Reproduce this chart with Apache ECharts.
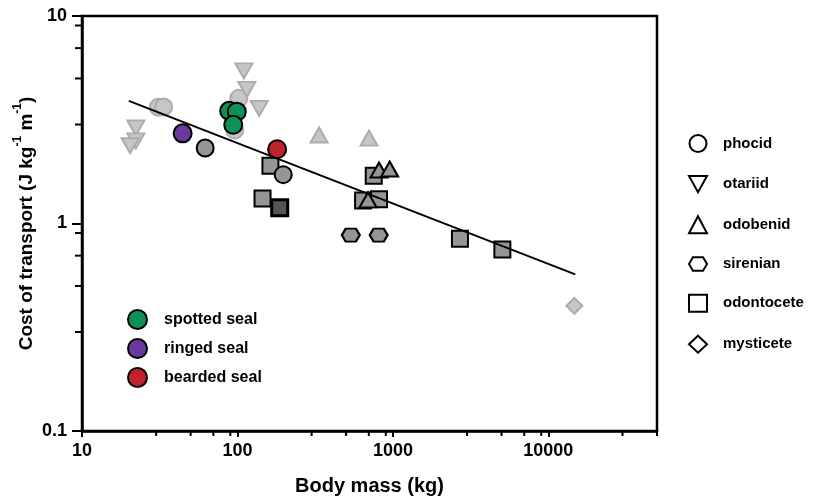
<!DOCTYPE html>
<html>
<head>
<meta charset="utf-8">
<script src="https://cdn.jsdelivr.net/npm/echarts@6/dist/echarts.min.js"></script>
<style>
  html, body { margin: 0; padding: 0; background: #fff; }
  #chart { width: 816px; height: 501px; }
</style>
</head>
<body>
<div id="chart"></div>
<script>
// body mass (kg), cost of transport (J kg-1 m-1)
var phocidLight = [[31, 3.63], [33.5, 3.64], [102, 4.01], [96, 2.82]];
var phocidMid = [[62, 2.31], [197, 1.72]];
var otariidLight = [[22.2, 2.89], [22.2, 2.5], [20.4, 2.37], [110, 5.44], [115, 4.43], [138, 3.59]];
var odobenidLight = [[335, 2.67], [702, 2.58]];
var odobenidMid = [[814, 1.81], [953, 1.83], [692, 1.3]];
var sirenianMid = [[536, 0.879], [810, 0.879]];
var odontoceteMid = [[163, 1.9], [145, 1.32], [753, 1.7], [643, 1.29], [814, 1.31], [2700, 0.845], [5060, 0.75]];
var odontoceteDark = [[187, 1.19]];
var mysticeteLight = [[14700, 0.401]];
var spottedSeal = [[88.5, 3.49], [99, 3.46], [94, 2.99]];
var ringedSeal = [[44.4, 2.72]];
var beardedSeal = [[180, 2.28]];
var fitLine = [[20, 3.9], [14900, 0.569]];

var taxa = ['phocid', 'otariid', 'odobenid', 'sirenian', 'odontocete', 'mysticete'];
var seals = ['spotted seal', 'ringed seal', 'bearded seal'];
var xMinorTicks = [30, 50, 70, 90, 300, 500, 700, 900, 3000, 5000, 7000, 9000, 30000, 50000];
var yMinorTicks = [0.3, 0.5, 0.7, 0.9, 3, 5, 7, 9];

var FONT = 'Liberation Sans';
var downTri = 'path://M0,0L20,0L10,18Z';
var hexagon = 'path://M0,6L3.5,0L12.5,0L16,6L12.5,12L3.5,12Z';

var light = {color: '#c6c6c6', borderColor: '#acacac', borderWidth: 2, opacity: 1};
var mid = {color: '#959595', borderColor: '#000', borderWidth: 2, opacity: 1};
var dark = {color: '#555555', borderColor: '#000', borderWidth: 3, opacity: 1};

function pts(name, data, symbol, size, style) {
    return {
        name: name, type: 'scatter', data: data,
        symbol: symbol, symbolSize: size, itemStyle: style,
        emphasis: {disabled: true}
    };
}

var outline = {color: '#fff', borderColor: '#000', borderWidth: 2};
var icons = ['circle', downTri, 'triangle', hexagon, 'rect', 'diamond'];
var sealColors = ['#0f9058', '#6a3aa0', '#c1232a'];

var myChart = echarts.init(document.getElementById('chart'));
var option = {
    animation: false,
    grid: {left: 82, right: 159, top: 16, bottom: 68, show: true, borderColor: '#000', borderWidth: 2.5},
    legend: [
        {
            data: taxa.map(function (t, i) {
                return {name: t, icon: icons[i], itemStyle: outline};
            }),
            orient: 'vertical', left: 683, top: 129,
            itemWidth: 18, itemHeight: 17, itemGap: 22,
            textStyle: {fontFamily: FONT, fontWeight: 'bold', fontSize: 15, color: '#000', padding: [0, 0, 0, 11]},
            selectedMode: false
        },
        {
            data: seals.map(function (s, i) {
                return {name: s, icon: 'circle', itemStyle: {color: sealColors[i], borderColor: '#000', borderWidth: 2}};
            }),
            orient: 'vertical', left: 122, top: 304,
            itemWidth: 19, itemHeight: 19, itemGap: 8,
            textStyle: {fontFamily: FONT, fontWeight: 'bold', fontSize: 16, color: '#000', padding: [0, 0, 0, 12]},
            selectedMode: false
        }
    ],
    xAxis: {
        type: 'log', min: 10, max: 50000,
        name: 'Body mass (kg)', nameLocation: 'middle', nameGap: 45,
        nameTextStyle: {fontFamily: FONT, fontWeight: 'bold', fontSize: 20, color: '#000'},
        axisLine: {lineStyle: {color: '#000', width: 2.5}},
        axisTick: {length: 6, lineStyle: {color: '#000', width: 2}},
        axisLabel: {fontFamily: FONT, fontWeight: 'bold', fontSize: 18, color: '#000', margin: 11, showMaxLabel: false,
            formatter: function (v) { return String(v); }},
        splitLine: {show: false}
    },
    yAxis: {
        type: 'log', min: 0.1, max: 10,
        name: '{a|Cost of transport (J kg}{s|-1}{a| m}{s|-1}{a|)}',
        nameLocation: 'middle', nameGap: 46, nameRotate: 90, nameMoveOverlap: false,
        nameTextStyle: {
            fontFamily: FONT, fontWeight: 'bold', fontSize: 19, color: '#000',
            rich: {
                a: {fontFamily: FONT, fontWeight: 'bold', fontSize: 19, color: '#000', lineHeight: 24, verticalAlign: 'bottom'},
                s: {fontFamily: FONT, fontWeight: 'bold', fontSize: 12, color: '#000', lineHeight: 24, verticalAlign: 'top'}
            }
        },
        axisLine: {lineStyle: {color: '#000', width: 2.5}},
        axisTick: {length: 10, lineStyle: {color: '#000', width: 2}},
        axisLabel: {fontFamily: FONT, fontWeight: 'bold', fontSize: 18, color: '#000', margin: 15,
            formatter: function (v) { return String(v); }},
        splitLine: {show: false}
    },
    series: [
        pts('phocid', phocidLight, 'circle', 17, light),
        pts('otariid', otariidLight, downTri, [17, 15], light),
        pts('odobenid', odobenidLight, 'triangle', [17, 15], light),
        pts('mysticete', mysticeteLight, 'diamond', 16, light),
        pts('odontocete', odontoceteMid, 'rect', 16, mid),
        pts('odontocete', odontoceteDark, 'rect', 16, dark),
        pts('sirenian', sirenianMid, hexagon, [18, 13], mid),
        pts('odobenid', odobenidMid, 'triangle', [17, 15], mid),
        pts('phocid', phocidMid, 'circle', 17, mid),
        {
            name: 'fit', type: 'line', data: fitLine, symbol: 'none',
            lineStyle: {color: '#000', width: 2}, silent: true, z: 3
        },
        pts('spotted seal', spottedSeal, 'circle', 18, {color: sealColors[0], borderColor: '#000', borderWidth: 2, opacity: 1}),
        pts('ringed seal', ringedSeal, 'circle', 18, {color: sealColors[1], borderColor: '#000', borderWidth: 2, opacity: 1}),
        pts('bearded seal', beardedSeal, 'circle', 18, {color: sealColors[2], borderColor: '#000', borderWidth: 2, opacity: 1}),
        {
            // minor ticks on the x axis
            type: 'custom', silent: true, clip: false,
            data: xMinorTicks.map(function (v) { return [v, 0.1]; }),
            renderItem: function (params, api) {
                var p = api.coord([api.value(0), api.value(1)]);
                return {type: 'line', shape: {x1: p[0], y1: p[1], x2: p[0], y2: p[1] + 5},
                    style: {stroke: '#000', lineWidth: 2}};
            }
        },
        {
            // minor ticks on the y axis
            type: 'custom', silent: true, clip: false,
            data: yMinorTicks.map(function (v) { return [10, v]; }),
            renderItem: function (params, api) {
                var p = api.coord([api.value(0), api.value(1)]);
                return {type: 'line', shape: {x1: p[0], y1: p[1], x2: p[0] - 7, y2: p[1]},
                    style: {stroke: '#000', lineWidth: 2}};
            }
        }
    ]
};
myChart.setOption(option);
</script>
</body>
</html>
